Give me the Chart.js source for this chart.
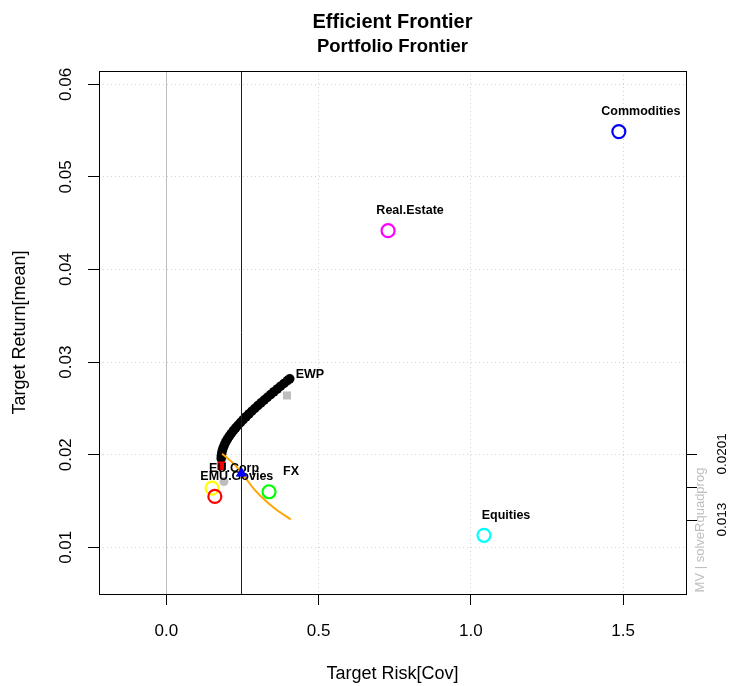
<!DOCTYPE html>
<html>
<head>
<meta charset="utf-8">
<script src="https://cdn.jsdelivr.net/npm/chart.js@4/dist/chart.umd.min.js"></script>
<style>
  html, body { margin: 0; padding: 0; background: #fff; }
  #wrap { width: 731px; height: 686px; }
</style>
</head>
<body>
<div id="wrap"><canvas id="chart" width="731" height="686"></canvas></div>
<script>
// frontier (efficient part)
const frontierRisk = [0.180, 0.1804, 0.1818, 0.1840, 0.1870, 0.1908, 0.1953, 0.2006, 0.2065, 0.2130,
  0.2200, 0.2275, 0.2355, 0.2438, 0.2525, 0.2616, 0.2709, 0.2805, 0.2903, 0.3003,
  0.3105, 0.3210, 0.3315, 0.3422, 0.3530, 0.3640, 0.3750, 0.3862, 0.3974, 0.405];
const frontierReturn = [0.0196, 0.0199, 0.0202, 0.0205, 0.0208, 0.0211, 0.0214, 0.0217, 0.0220, 0.0223,
  0.0226, 0.0229, 0.0232, 0.0235, 0.0238, 0.0241, 0.0244, 0.0247, 0.0250, 0.0253,
  0.0256, 0.0259, 0.0262, 0.0265, 0.0268, 0.0271, 0.0274, 0.0277, 0.0280, 0.0282];

const assetNames = ['Commodities', 'Real.Estate', 'Equities', 'FX', 'EU.Corp', 'EMU.Govies'];
const assetRisk = [1.486, 0.728, 1.043, 0.337, 0.150, 0.159];
const assetReturn = [0.0549, 0.0442, 0.0113, 0.0160, 0.0164, 0.0155];
const assetColors = ['#0000FF', '#FF00FF', '#00FFFF', '#00FF00', '#FFFF00', '#FF0000'];

// sharpe ratio line (drawn on return scale)
const sharpeRisk = [0.183, 0.2245, 0.257, 0.290, 0.323, 0.356, 0.4085];
const sharpeReturn = [0.0201, 0.0189, 0.0176, 0.0162, 0.0151, 0.0142, 0.0130];

const minVarPoint = { x: 0.181, y: 0.0188 };
const tangencyPoint = { x: 0.2465, y: 0.0180 };
const grayCircle = { x: 0.189, y: 0.0171 };
const graySquare = { x: 0.396, y: 0.0264 };

const vLines = [0, 0.2465];
const vLineColors = ['#BEBEBE', '#0000FF'];

const xTicks = [0, 0.5, 1.0, 1.5];
const yTicks = [0.01, 0.02, 0.03, 0.04, 0.05, 0.06];
const rightTicks = [0.013, 0.01655, 0.0201];
const rightLabels = ['0.013', '', '0.0201'];

const FONT = '"Liberation Sans", Arial, sans-serif';

const rPlot = {
  id: 'rPlot',
  beforeDatasetsDraw(chart) {
    const { ctx, chartArea: a, scales: { x } } = chart;
    ctx.save();
    ctx.lineWidth = 1;
    ctx.strokeStyle = vLineColors[0];
    const px = Math.round(x.getPixelForValue(vLines[0])) + 0.5;
    ctx.beginPath(); ctx.moveTo(px, a.top); ctx.lineTo(px, a.bottom); ctx.stroke();
    ctx.restore();
  },
  // labels and the blue line go under the tangency triangle (dataset 0)
  afterDatasetDraw(chart, args) {
    if (args.index !== 1) return;
    const { ctx, chartArea: a, scales: { x, y } } = chart;
    ctx.save();
    ctx.lineWidth = 1;
    ctx.strokeStyle = vLineColors[1];
    const px = Math.round(x.getPixelForValue(vLines[1])) + 0.5;
    ctx.beginPath(); ctx.moveTo(px, a.top); ctx.lineTo(px, a.bottom); ctx.stroke();

    ctx.fillStyle = '#000';
    ctx.font = 'bold 12.5px ' + FONT;
    ctx.textAlign = 'center';
    ctx.textBaseline = 'middle';
    assetNames.forEach((n, i) => {
      ctx.fillText(n, x.getPixelForValue(assetRisk[i]) + 22, y.getPixelForValue(assetReturn[i]) - 20);
    });
    const last = frontierRisk.length - 1;
    ctx.textAlign = 'left';
    ctx.fillText('EWP', x.getPixelForValue(frontierRisk[last]) + 6, y.getPixelForValue(frontierReturn[last]) - 4);
    ctx.restore();
  },
  afterDraw(chart) {
    const { ctx, chartArea: a, scales: { y } } = chart;
    ctx.save();
    // box
    ctx.strokeStyle = '#000';
    ctx.lineWidth = 1;
    ctx.strokeRect(Math.round(a.left) + 0.5, Math.round(a.top) + 0.5,
      Math.round(a.right - a.left), Math.round(a.bottom - a.top));

    // titles
    const cx = (a.left + a.right) / 2;
    ctx.fillStyle = '#000';
    ctx.textAlign = 'center';
    ctx.textBaseline = 'middle';
    ctx.font = 'bold 20px ' + FONT;
    ctx.fillText('Efficient Frontier', cx, 22);
    ctx.font = 'bold 18.5px ' + FONT;
    ctx.fillText('Portfolio Frontier', cx, 47);
    ctx.font = '18px ' + FONT;
    ctx.fillText('Target Risk[Cov]', cx, 674);
    ctx.save();
    ctx.translate(20, (a.top + a.bottom) / 2);
    ctx.rotate(-Math.PI / 2);
    ctx.fillText('Target Return[mean]', 0, 0);
    ctx.restore();

    // right axis (sharpe ratio range)
    ctx.beginPath();
    ctx.moveTo(a.right + 0.5, y.getPixelForValue(rightTicks[0]));
    ctx.lineTo(a.right + 0.5, y.getPixelForValue(rightTicks[rightTicks.length - 1]));
    rightTicks.forEach(v => {
      const py = Math.round(y.getPixelForValue(v)) + 0.5;
      ctx.moveTo(a.right, py); ctx.lineTo(a.right + 11, py);
    });
    ctx.stroke();
    ctx.font = '13.5px ' + FONT;
    rightTicks.forEach((v, i) => {
      if (!rightLabels[i]) return;
      ctx.save();
      ctx.translate(722, y.getPixelForValue(v));
      ctx.rotate(-Math.PI / 2);
      ctx.fillText(rightLabels[i], 0, 0);
      ctx.restore();
    });
    ctx.fillStyle = '#BEBEBE';
    ctx.font = '13px ' + FONT;
    ctx.translate(700, 530);
    ctx.rotate(-Math.PI / 2);
    ctx.fillText('MV | solveRquadprog', 0, 0);
    ctx.restore();
  }
};

const pts = (xs, ys) => xs.map((v, i) => ({ x: v, y: ys[i] }));

new Chart(document.getElementById('chart'), {
  type: 'scatter',
  data: {
    datasets: [
      { data: [tangencyPoint], pointStyle: 'triangle', pointRadius: 6.5, backgroundColor: '#0000FF', borderColor: '#0000FF', borderWidth: 0 },
      { data: [graySquare], pointStyle: 'rect', pointRadius: 5.7, backgroundColor: '#BEBEBE', borderWidth: 0 },
      { data: [minVarPoint], pointStyle: 'rect', pointRadius: 6, backgroundColor: '#FF0000', borderWidth: 0 },
      { data: [grayCircle], pointRadius: 4.5, backgroundColor: '#BEBEBE', borderWidth: 0 },
      { data: pts(assetRisk, assetReturn), pointRadius: 6.5, borderWidth: 2.2,
        backgroundColor: 'rgba(0,0,0,0)', borderColor: assetColors },
      { data: pts(sharpeRisk, sharpeReturn), showLine: true, pointRadius: 0, borderColor: '#FFA500',
        borderWidth: 2, cubicInterpolationMode: 'monotone' },
      { data: pts(frontierRisk, frontierReturn), pointRadius: 4.8, backgroundColor: '#000', borderWidth: 0 }
    ]
  },
  options: {
    responsive: false,
    animation: false,
    devicePixelRatio: 1,
    layout: { padding: { left: 0, right: 45, top: 71, bottom: 0 } },
    plugins: { legend: { display: false }, tooltip: { enabled: false } },
    elements: { point: { hoverRadius: 0 } },
    scales: {
      x: {
        type: 'linear', min: -0.2215, max: 1.7066,
        afterBuildTicks: s => { s.ticks = xTicks.map(v => ({ value: v })); },
        afterFit: s => { s.height = 92; },
        ticks: { callback: v => v.toFixed(1), color: '#000', font: { family: FONT, size: 17 }, padding: 16 },
        grid: { color: '#D3D3D3', tickColor: '#000', tickLength: 11, lineWidth: 1 },
        border: { display: false, dash: [1, 3] }
      },
      y: {
        type: 'linear', min: 0.00496, max: 0.06144,
        afterBuildTicks: s => { s.ticks = yTicks.map(v => ({ value: v })); },
        afterFit: s => { s.width = 99; },
        ticks: { callback: v => v.toFixed(2), color: '#000', font: { family: FONT, size: 17 },
          padding: 5, minRotation: 90, maxRotation: 90, crossAlign: 'center' },
        grid: { color: '#D3D3D3', tickColor: '#000', tickLength: 11, lineWidth: 1 },
        border: { display: false, dash: [1, 3] }
      }
    }
  },
  plugins: [rPlot]
});
</script>
</body>
</html>
